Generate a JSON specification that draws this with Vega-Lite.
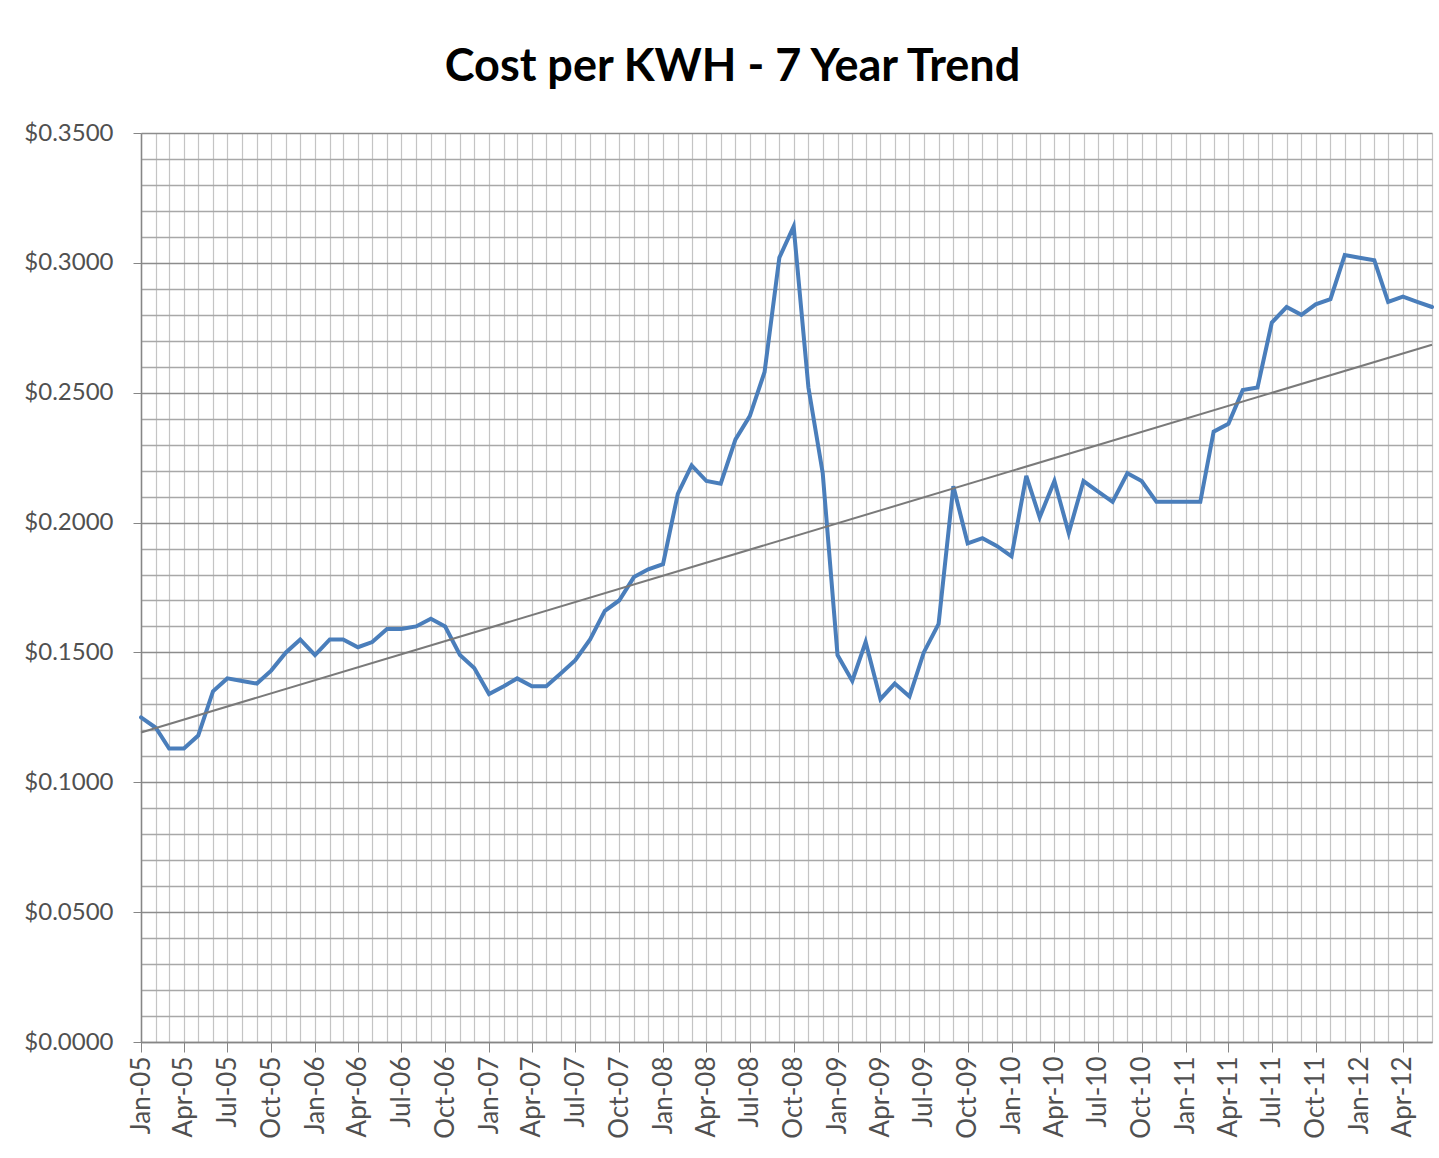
{
  "$schema": "https://vega.github.io/schema/vega-lite/v6.json",
  "width": 1291,
  "height": 909,
  "autosize": {"type": "none"},
  "padding": {"left": 141, "top": 133, "right": 7, "bottom": 116},
  "background": "white",
  "title": {"text": "Cost per KWH - 7 Year Trend", "font": "Lato", "fontSize": 45, "fontWeight": "bold", "color": "#000000", "anchor": "middle", "dx": -54, "offset": 31},
  "config": {"view": {"stroke": null}},
  "data": {
    "format": {"parse": {"date": "date"}},
    "values": [
      {"date": "2005-01-01", "cost": 0.125},
      {"date": "2005-02-01", "cost": 0.121},
      {"date": "2005-03-01", "cost": 0.113},
      {"date": "2005-04-01", "cost": 0.113},
      {"date": "2005-05-01", "cost": 0.118},
      {"date": "2005-06-01", "cost": 0.135},
      {"date": "2005-07-01", "cost": 0.140},
      {"date": "2005-08-01", "cost": 0.139},
      {"date": "2005-09-01", "cost": 0.138},
      {"date": "2005-10-01", "cost": 0.143},
      {"date": "2005-11-01", "cost": 0.150},
      {"date": "2005-12-01", "cost": 0.155},
      {"date": "2006-01-01", "cost": 0.149},
      {"date": "2006-02-01", "cost": 0.155},
      {"date": "2006-03-01", "cost": 0.155},
      {"date": "2006-04-01", "cost": 0.152},
      {"date": "2006-05-01", "cost": 0.154},
      {"date": "2006-06-01", "cost": 0.159},
      {"date": "2006-07-01", "cost": 0.159},
      {"date": "2006-08-01", "cost": 0.160},
      {"date": "2006-09-01", "cost": 0.163},
      {"date": "2006-10-01", "cost": 0.160},
      {"date": "2006-11-01", "cost": 0.149},
      {"date": "2006-12-01", "cost": 0.144},
      {"date": "2007-01-01", "cost": 0.134},
      {"date": "2007-02-01", "cost": 0.137},
      {"date": "2007-03-01", "cost": 0.140},
      {"date": "2007-04-01", "cost": 0.137},
      {"date": "2007-05-01", "cost": 0.137},
      {"date": "2007-06-01", "cost": 0.142},
      {"date": "2007-07-01", "cost": 0.147},
      {"date": "2007-08-01", "cost": 0.155},
      {"date": "2007-09-01", "cost": 0.166},
      {"date": "2007-10-01", "cost": 0.170},
      {"date": "2007-11-01", "cost": 0.179},
      {"date": "2007-12-01", "cost": 0.182},
      {"date": "2008-01-01", "cost": 0.184},
      {"date": "2008-02-01", "cost": 0.211},
      {"date": "2008-03-01", "cost": 0.222},
      {"date": "2008-04-01", "cost": 0.216},
      {"date": "2008-05-01", "cost": 0.215},
      {"date": "2008-06-01", "cost": 0.232},
      {"date": "2008-07-01", "cost": 0.241},
      {"date": "2008-08-01", "cost": 0.258},
      {"date": "2008-09-01", "cost": 0.302},
      {"date": "2008-10-01", "cost": 0.314},
      {"date": "2008-11-01", "cost": 0.252},
      {"date": "2008-12-01", "cost": 0.219},
      {"date": "2009-01-01", "cost": 0.149},
      {"date": "2009-02-01", "cost": 0.139},
      {"date": "2009-03-01", "cost": 0.154},
      {"date": "2009-04-01", "cost": 0.132},
      {"date": "2009-05-01", "cost": 0.138},
      {"date": "2009-06-01", "cost": 0.133},
      {"date": "2009-07-01", "cost": 0.150},
      {"date": "2009-08-01", "cost": 0.161},
      {"date": "2009-09-01", "cost": 0.214},
      {"date": "2009-10-01", "cost": 0.192},
      {"date": "2009-11-01", "cost": 0.194},
      {"date": "2009-12-01", "cost": 0.191},
      {"date": "2010-01-01", "cost": 0.187},
      {"date": "2010-02-01", "cost": 0.218},
      {"date": "2010-03-01", "cost": 0.202},
      {"date": "2010-04-01", "cost": 0.216},
      {"date": "2010-05-01", "cost": 0.196},
      {"date": "2010-06-01", "cost": 0.216},
      {"date": "2010-07-01", "cost": 0.212},
      {"date": "2010-08-01", "cost": 0.208},
      {"date": "2010-09-01", "cost": 0.219},
      {"date": "2010-10-01", "cost": 0.216},
      {"date": "2010-11-01", "cost": 0.208},
      {"date": "2010-12-01", "cost": 0.208},
      {"date": "2011-01-01", "cost": 0.208},
      {"date": "2011-02-01", "cost": 0.208},
      {"date": "2011-03-01", "cost": 0.235},
      {"date": "2011-04-01", "cost": 0.238},
      {"date": "2011-05-01", "cost": 0.251},
      {"date": "2011-06-01", "cost": 0.252},
      {"date": "2011-07-01", "cost": 0.277},
      {"date": "2011-08-01", "cost": 0.283},
      {"date": "2011-09-01", "cost": 0.280},
      {"date": "2011-10-01", "cost": 0.284},
      {"date": "2011-11-01", "cost": 0.286},
      {"date": "2011-12-01", "cost": 0.303},
      {"date": "2012-01-01", "cost": 0.302},
      {"date": "2012-02-01", "cost": 0.301},
      {"date": "2012-03-01", "cost": 0.285},
      {"date": "2012-04-01", "cost": 0.287},
      {"date": "2012-05-01", "cost": 0.285},
      {"date": "2012-06-01", "cost": 0.283}
    ]
  },
  "encoding": {
    "x": {
      "field": "date",
      "type": "temporal",
      "scale": {"type": "utc", "domain": [{"year": 2005, "month": 1, "date": 1, "utc": true}, {"year": 2012, "month": 6, "date": 1, "utc": true}]},
      "axis": {
        "title": null,
        "tickCount": {"interval": "month", "step": 1},
        "labelExpr": "utcmonth(datum.value) % 3 == 0 ? utcFormat(datum.value, '%b-%y') : ''",
        "labelAngle": -90,
        "labelFont": "Lato",
        "labelFontSize": 26,
        "labelColor": "#505050",
        "labelPadding": 4,
        "labelOverlap": false,
        "labelFlush": false,
        "tickSize": 10,
        "tickColor": "#868686",
        "tickOpacity": {"condition": {"test": "utcmonth(datum.value) % 3 == 0", "value": 1}, "value": 0},
        "domainColor": "#868686",
        "domainWidth": 1.5,
        "grid": true,
        "gridColor": "#c4c4c4",
        "gridWidth": 1.2
      }
    },
    "y": {
      "field": "cost",
      "type": "quantitative",
      "scale": {"domain": [0, 0.35], "nice": false, "zero": true},
      "axis": {
        "title": null,
        "values": [0, 0.01, 0.02, 0.03, 0.04, 0.05, 0.06, 0.07, 0.08, 0.09, 0.1, 0.11, 0.12, 0.13, 0.14, 0.15, 0.16, 0.17, 0.18, 0.19, 0.2, 0.21, 0.22, 0.23, 0.24, 0.25, 0.26, 0.27, 0.28, 0.29, 0.3, 0.31, 0.32, 0.33, 0.34, 0.35],
        "labelExpr": "round(datum.value * 100) % 5 == 0 ? '$' + format(datum.value, '.4f') : ''",
        "labelFont": "Lato",
        "labelFontSize": 24,
        "labelColor": "#505050",
        "labelPadding": 20,
        "labelOverlap": false,
        "tickSize": 8,
        "tickColor": "#868686",
        "tickOpacity": {"condition": {"test": "round(datum.value * 100) % 5 == 0", "value": 1}, "value": 0},
        "domainColor": "#868686",
        "domainWidth": 1.5,
        "grid": true,
        "gridColor": {"condition": {"test": "round(datum.value * 100) % 5 == 0", "value": "#8c8c8c"}, "value": "#a8a8a8"},
        "gridWidth": 1.3
      }
    }
  },
  "layer": [
    {"mark": {"type": "line", "color": "#4a7ebb", "strokeWidth": 4, "strokeCap": "round"}},
    {
      "transform": [{"regression": "cost", "on": "date"}],
      "mark": {"type": "line", "color": "#7a7a7a", "strokeWidth": 2}
    }
  ]
}
